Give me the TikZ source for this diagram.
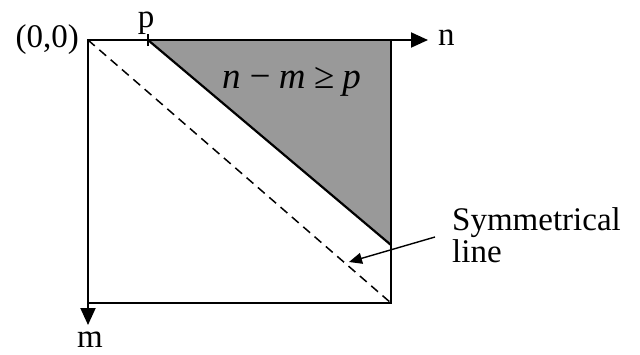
\documentclass[tikz,border=0pt]{standalone}
\usepackage{fontspec}
\setmainfont{Liberation Serif}
\usetikzlibrary{arrows.meta}
\definecolor{regiongray}{RGB}{153,153,153}
\begin{document}
\begin{tikzpicture}[x=1pt,y=-1pt,
  lbl/.style={inner sep=0pt,font=\fontsize{33}{38}\selectfont},
  frame/.style={line width=2pt},
  axisarrow/.style={line width=2pt,-{Triangle[length=17pt,width=15pt]}},
  symline/.style={line width=1.5pt,dash pattern=on 9pt off 6pt},
  pointer/.style={line width=1.4pt,-{Triangle[length=13pt,width=11pt]}}]
\useasboundingbox (0,0) rectangle (640,354);
\coordinate (O) at (88,40);
\coordinate (TR) at (391,40);
\coordinate (BR) at (391,303);
\coordinate (BL) at (88,303);
\coordinate (P) at (148,40);
\coordinate (Q) at (391,245);
\coordinate (N) at (428,40);
\coordinate (M) at (88,325);
\coordinate (S) at (435,237);
\coordinate (T) at (349,262);
% shaded region
\fill[regiongray] (P) -- (TR) -- (Q) -- cycle;
\draw[line width=2.2pt] (P) -- (Q);
% square
\draw[frame] (O) -- (TR) -- (BR) -- (BL) -- cycle;
% axes
\draw[axisarrow] (TR) -- (N);
\draw[axisarrow] (BL) -- (M);
% tick at p
\draw[line width=1.5pt] ([yshift=-6pt]P) -- ([yshift=6pt]P);
% symmetrical line
\draw[symline] (O) -- (BR);
\draw[pointer] (S) -- (T);
% labels
\node[lbl,anchor=base east] (orig) at (79,47) {(0,0)};
\node[lbl,anchor=base] (plbl) at (146,27) {p};
\node[lbl,anchor=base west] (nlbl) at (438,45) {n};
\node[lbl,anchor=base] (mlbl) at (90,347) {m};
\node[lbl,anchor=base west,font=\fontsize{37}{42}\selectfont] (ineq) at (222,88) {\itshape n\hspace{0.18em}−\hspace{0.18em}m\hspace{0.22em}≥\hspace{0.22em}p};
\node[lbl,anchor=base west] (sym1) at (452,230) {Symmetrical};
\node[lbl,anchor=base west] (sym2) at (452,262) {line};
\end{tikzpicture}
\end{document}
